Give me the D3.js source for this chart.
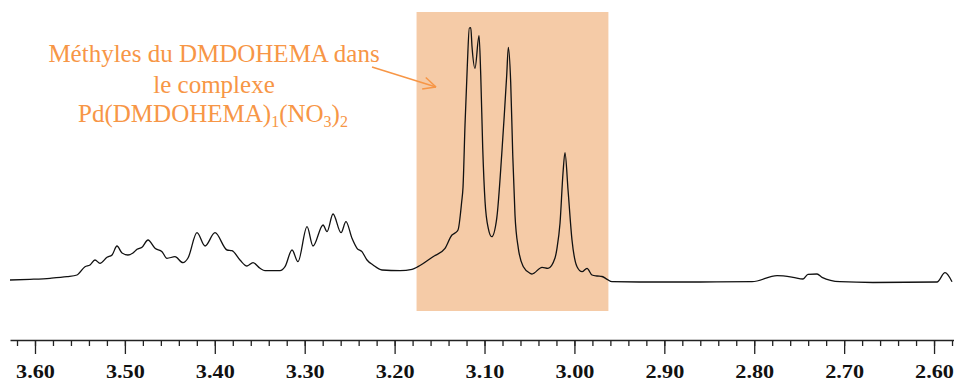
<!DOCTYPE html>
<html>
<head>
<meta charset="utf-8">
<script src="https://cdn.jsdelivr.net/npm/d3@7"></script>
<style>
  html, body { margin: 0; padding: 0; background: #ffffff; }
  svg { display: block; }
</style>
</head>
<body>
<svg id="chart" width="954" height="383"></svg>
<script>
// Chemical shift (ppm) of traced spectrum points
const ppm = [3.6278,3.6056,3.5833,3.5644,3.5533,3.5444,3.5388,3.5333,3.5277,3.5199,3.5143,3.5088,3.5032,3.4966,3.4910,3.4865,3.4810,3.4743,3.4665,3.4587,3.4532,3.4443,3.4354,3.4298,3.4198,3.4109,3.3998,3.3864,3.3809,3.3720,3.3642,3.3575,3.3497,3.3442,3.3275,3.3219,3.3141,3.3075,3.2974,3.2908,3.2796,3.2752,3.2685,3.2596,3.2541,3.2474,3.2418,3.2363,3.2307,3.2240,3.2140,3.1940,3.1806,3.1740,3.1573,3.1439,3.1362,3.1328,3.1295,3.1254,3.1239,3.1217,3.1191,3.1169,3.1153,3.1139,3.1106,3.1061,3.1042,3.1020,3.0994,3.0958,3.0920,3.0864,3.0809,3.0780,3.0753,3.0735,3.0709,3.0686,3.0661,3.0624,3.0568,3.0494,3.0472,3.0360,3.0294,3.0216,3.0194,3.0160,3.0127,3.0105,3.0071,3.0027,2.9971,2.9915,2.9860,2.9804,2.9749,2.9693,2.9637,2.9582,2.9159,2.8603,2.8024,2.7746,2.7568,2.7457,2.7402,2.7301,2.7246,2.7046,2.6679,2.5967,2.5878,2.5800];
// Signal intensity (arbitrary units, 0 = baseline)
const intensity = [2,2.7,3.7,5.3,7,15.3,17,22,18.7,24.7,27,36,29,27,29,32.7,34.7,42,33.7,30.3,23.7,25.3,19.3,24,49.3,36,49.3,32,31.3,22,16,19.3,13.7,11.3,11.3,15.3,32,20.3,55.3,36,57,50.3,68,49.3,60.3,43.7,33.7,30.3,22,17,12,11.3,12.7,15.3,25.3,33.7,47,49,52,80.3,95,157,217,254,254.3,235.3,213.7,246.3,207,134,80.3,53.7,45.3,63.7,127,167,207,234.7,200.3,127,67,33.7,15.3,8.7,8,14.7,13.7,24,33.7,59,109,129.3,92,42,15.3,10.3,13.7,7,6,5.5,2.7,0.3,0,0,0.3,6.3,4.7,3,7.7,8,4.7,0.3,-0.5,0,9.3,0.3];
// Axis ticks
const majorTicks = [3.60,3.50,3.40,3.30,3.20,3.10,3.00,2.90,2.80,2.70,2.60];
const minorTicks = d3.range(0, 53).map(i => +(3.62 - i * 0.02).toFixed(2));
// Annotation
const noteLines = ["Méthyles du DMDOHEMA dans", "le complexe"];
const highlightRange = [3.1756, 2.9622];

const SERIF = "Liberation Serif, Tinos, Times New Roman, DejaVu Serif, Noto Serif, serif";

const svg = d3.select("#chart");
const x = d3.scaleLinear().domain([3.6278, 2.5778]).range([10, 954]);
const y = d3.scaleLinear().domain([0, 254]).range([282, 28]);

// highlight band
svg.append("rect")
  .attr("x", x(highlightRange[0]))
  .attr("y", 12)
  .attr("width", x(highlightRange[1]) - x(highlightRange[0]))
  .attr("height", 299)
  .attr("fill", "#F5CBA7");

// spectrum
const pts = ppm.map((p, i) => [p, intensity[i]]);
svg.append("path")
  .datum(pts)
  .attr("fill", "none")
  .attr("stroke", "#111")
  .attr("stroke-width", 1.3)
  .attr("stroke-linejoin", "round")
  .attr("d", d3.line().x(d => x(d[0])).y(d => y(d[1])).curve(d3.curveMonotoneX));

// axes
const axisY = 340;
const minorAxis = svg.append("g").attr("transform", `translate(0,${axisY})`)
  .call(d3.axisBottom(x).tickValues(minorTicks).tickSize(6).tickSizeOuter(0).tickFormat(""));
const majorAxis = svg.append("g").attr("transform", `translate(0,${axisY})`)
  .call(d3.axisBottom(x).tickValues(majorTicks).tickSize(14).tickSizeOuter(0).tickFormat(d3.format(".2f")));
[minorAxis, majorAxis].forEach(g => {
  g.select(".domain").attr("stroke", "#222").attr("stroke-width", 1.6);
  g.selectAll(".tick line").attr("stroke", "#222").attr("stroke-width", 1.3);
});
majorAxis.select(".domain").remove();
majorAxis.attr("font-family", SERIF).attr("font-size", 19).attr("font-weight", "bold");
majorAxis.selectAll(".tick text")
  .attr("font-family", SERIF)
  .attr("font-weight", "bold")
  .attr("y", 0).attr("dy", 0)
  .attr("transform", "translate(0,38) scale(1.17,1)")
  .attr("fill", "#111");

// annotation text
const orange = "#F79646";
const note = svg.append("text")
  .attr("font-family", SERIF)
  .attr("text-anchor", "middle")
  .attr("fill", orange)
  .attr("font-size", 25);
note.append("tspan").attr("x", 214).attr("y", 62).text(noteLines[0]);
note.append("tspan").attr("x", 214).attr("y", 92.5).text(noteLines[1]);
const l3 = note.append("tspan").attr("x", 213).attr("y", 122);
const sub = (t) => { note.append("tspan").attr("dy", 5).attr("font-size", 16).text(t); };
l3.text("Pd(DMDOHEMA)");
sub("1");
note.append("tspan").attr("dy", -5).text("(NO");
sub("3");
note.append("tspan").attr("dy", -5).text(")");
sub("2");

// arrow
svg.append("line").attr("x1", 372).attr("y1", 67).attr("x2", 436).attr("y2", 87)
  .attr("stroke", orange).attr("stroke-width", 1.5);
const ang = Math.atan2(87 - 67, 436 - 372);
[0.45, -0.45].forEach(a => {
  svg.append("line")
    .attr("x1", 436).attr("y1", 87)
    .attr("x2", 436 - 14 * Math.cos(ang + a)).attr("y2", 87 - 14 * Math.sin(ang + a))
    .attr("stroke", orange).attr("stroke-width", 1.5);
});
</script>
</body>
</html>
